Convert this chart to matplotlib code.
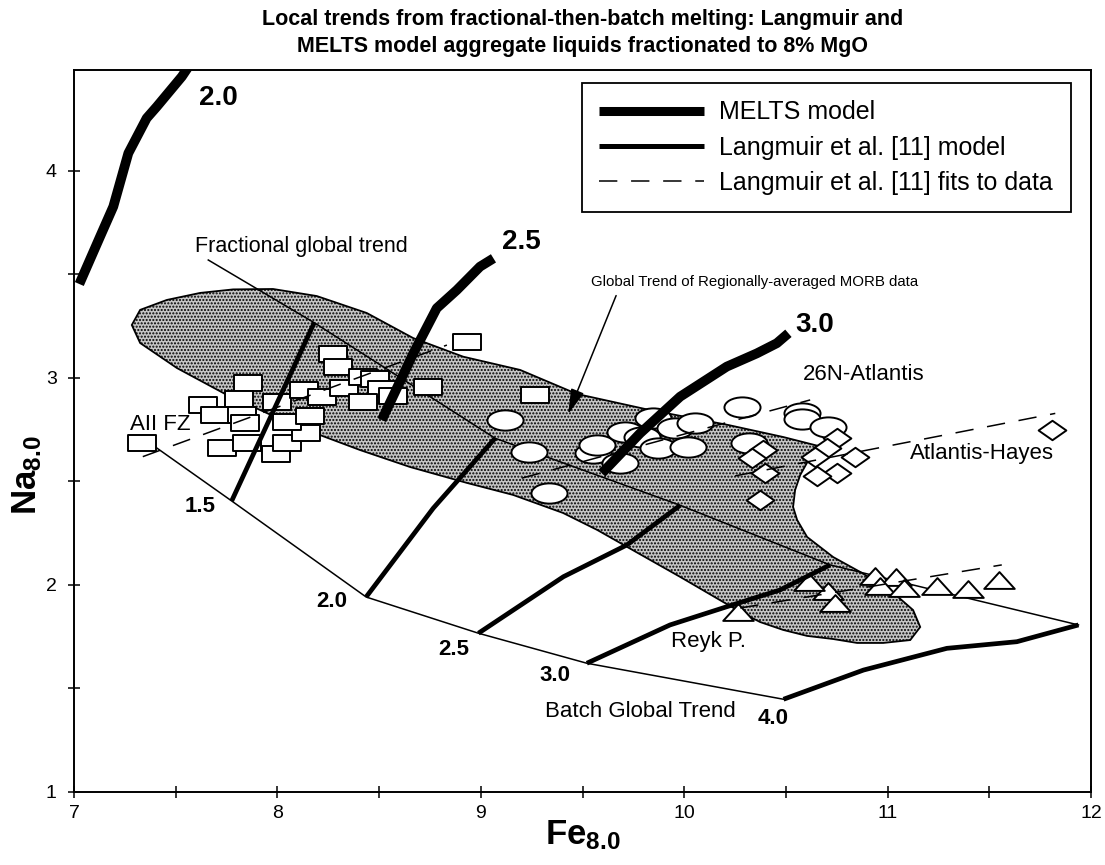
import numpy as np
import matplotlib
matplotlib.use('Agg')
import matplotlib.pyplot as plt
from matplotlib.path import Path
from matplotlib.patches import Polygon
from matplotlib.lines import Line2D
from matplotlib.ticker import MultipleLocator

plt.rcParams['font.family'] = ['Liberation Sans', 'DejaVu Sans']
plt.rcParams['mathtext.fontset'] = 'custom'
plt.rcParams['mathtext.rm'] = 'Liberation Sans'
plt.rcParams['mathtext.bf'] = 'Liberation Sans:bold'
plt.rcParams['hatch.linewidth'] = 1.0

# ---------------- data ----------------
# MELTS model curves (thick)
melts20_x = [7.026, 7.128, 7.193, 7.267, 7.357, 7.407, 7.530, 7.560]
melts20_y = [3.454, 3.683, 3.828, 4.086, 4.255, 4.311, 4.456, 4.500]
melts25_x = [8.513, 8.668, 8.783, 8.882, 8.996, 9.062]
melts25_y = [2.797, 3.119, 3.337, 3.425, 3.538, 3.578]
melts30_x = [9.595, 9.783, 9.980, 10.209, 10.357, 10.455, 10.512]
melts30_y = [2.540, 2.733, 2.910, 3.055, 3.119, 3.168, 3.216]

# Langmuir model: batch and fractional global trends
batch_x = [7.398, 7.775, 8.436, 8.988, 9.521, 10.488]
batch_y = [2.668, 2.406, 1.942, 1.767, 1.622, 1.448]
frac_x = [7.660, 8.181, 9.070, 9.980, 10.717, 11.938]
frac_y = [3.570, 3.267, 2.709, 2.385, 2.097, 1.807]

# Langmuir fractional-then-batch local trends
lang15_x = [7.775, 8.181]
lang15_y = [2.406, 3.267]
lang20_x = [8.436, 8.766, 9.070]
lang20_y = [1.942, 2.371, 2.709]
lang25_x = [8.988, 9.406, 9.717, 9.980]
lang25_y = [1.767, 2.040, 2.193, 2.385]
lang30_x = [9.521, 9.930, 10.209, 10.471, 10.717]
lang30_y = [1.622, 1.807, 1.895, 1.976, 2.097]
lang40_x = [10.488, 10.881, 11.291, 11.635, 11.848, 11.938]
lang40_y = [1.448, 1.589, 1.694, 1.726, 1.783, 1.807]

# Global trend of regionally-averaged MORB data (stippled field outline)
field_x = [7.284, 7.325, 7.456, 7.620, 7.782, 7.978, 8.193, 8.439, 8.667, 8.913,
           9.193, 9.472, 9.832, 10.216, 10.486, 10.658, 10.619, 10.570, 10.545, 10.535,
           10.555, 10.604, 10.732, 10.865, 11.012, 11.125, 11.160, 11.111, 10.978, 10.850,
           10.732, 10.604, 10.486, 10.373, 10.275, 9.980, 9.719, 9.572, 9.404, 9.159,
           8.932, 8.652, 8.406, 8.077, 7.752, 7.506, 7.325]
field_y = [3.256, 3.329, 3.377, 3.411, 3.428, 3.430, 3.396, 3.314, 3.193, 3.103,
           3.039, 2.923, 2.845, 2.773, 2.715, 2.672, 2.618, 2.531, 2.459, 2.377,
           2.314, 2.232, 2.135, 2.063, 1.976, 1.879, 1.797, 1.734, 1.720, 1.720,
           1.739, 1.754, 1.783, 1.821, 1.870, 2.039, 2.184, 2.266, 2.348, 2.435,
           2.493, 2.570, 2.652, 2.773, 2.918, 3.048, 3.169]

# Data: AII FZ (rectangles)
aii_x = [7.333, 7.633, 7.693, 7.857, 7.813, 7.825, 7.841, 7.726, 7.849, 7.993,
         8.046, 8.141, 8.046, 8.160, 7.997, 8.132, 8.218, 8.275, 8.300, 8.329,
         8.422, 8.480, 8.513, 8.422, 8.567, 8.742, 8.931, 9.267]
aii_y = [2.685, 2.868, 2.821, 2.974, 2.897, 2.821, 2.781, 2.660, 2.687, 2.631,
         2.685, 2.733, 2.789, 2.818, 2.886, 2.942, 2.907, 3.115, 3.052, 2.950,
         3.006, 2.995, 2.945, 2.886, 2.913, 2.958, 3.175, 2.918]
# 26N-Atlantis (ellipses)
atl_x = [9.119, 9.237, 9.337, 9.553, 9.572, 9.709, 9.848, 9.791, 9.955, 10.053,
         9.685, 9.873, 10.020, 10.316, 10.283, 10.578, 10.578, 10.709]
atl_y = [2.797, 2.644, 2.443, 2.636, 2.676, 2.741, 2.805, 2.716, 2.757, 2.781,
         2.588, 2.660, 2.668, 2.685, 2.861, 2.829, 2.802, 2.765]
# Atlantis-Hayes (diamonds)
hay_x = [10.389, 10.332, 10.398, 10.373, 10.750, 10.701, 10.643, 10.840, 10.750, 10.652, 11.807]
hay_y = [2.652, 2.612, 2.543, 2.411, 2.709, 2.660, 2.617, 2.617, 2.543, 2.527, 2.749]
# Reykjanes Peninsula (triangles)
rey_x = [10.938, 11.042, 10.963, 11.078, 11.242, 11.397, 11.545, 10.709, 10.742, 10.611, 10.266]
rey_y = [2.043, 2.037, 1.995, 1.984, 1.995, 1.979, 2.024, 1.972, 1.912, 2.016, 1.871]

# Langmuir et al. fits to data (dashed)
fit_aii_x = [7.338, 8.833]
fit_aii_y = [2.620, 3.159]
fit_atl_x = [9.201, 10.619]
fit_atl_y = [2.516, 2.894]
fit_hay_x = [10.250, 11.824]
fit_hay_y = [2.527, 2.829]
fit_rey_x = [10.275, 11.561]
fit_rey_y = [1.889, 2.097]

# labels
batch_labels = ['1.5', '2.0', '2.5', '3.0', '4.0']
batch_lbl_x = [7.620, 8.267, 8.868, 9.365, 10.438]
batch_lbl_y = [2.378, 1.919, 1.686, 1.565, 1.356]
melts_labels = ['2.0', '2.5', '3.0']
melts_lbl_x = [7.708, 9.198, 10.643]
melts_lbl_y = [4.353, 3.657, 3.256]

xticks = [7, 8, 9, 10, 11, 12]
yticks = [1, 2, 3, 4]

# ---------------- figure ----------------
fig = plt.figure(figsize=(11.05, 8.65), dpi=100)
ax = fig.add_axes([0.0670, 0.0844, 0.9204, 0.8347])
ax.set_xlim(7, 12)
ax.set_ylim(1, 4.488)

field = Polygon(np.column_stack([field_x, field_y]), closed=True,
                facecolor='#c6c6c6', edgecolor='black', lw=1.3, hatch='.....', zorder=1)
ax.add_patch(field)

thin = dict(color='black', lw=1.1, zorder=2)
ax.plot(batch_x, batch_y, **thin)
ax.plot(frac_x, frac_y, **thin)

# markers
rect = Path([(-1, -0.55), (1, -0.55), (1, 0.55), (-1, 0.55), (-1, -0.55)],
            [Path.MOVETO, Path.LINETO, Path.LINETO, Path.LINETO, Path.CLOSEPOLY])
uc = Path.unit_circle()
ell = Path(uc.vertices * np.array([1.0, 0.56]), uc.codes)
diam = Path([(-1, 0), (0, 0.7), (1, 0), (0, -0.7), (-1, 0)],
            [Path.MOVETO, Path.LINETO, Path.LINETO, Path.LINETO, Path.CLOSEPOLY])
tri = Path([(-1, -0.55), (1, -0.55), (0, 0.55), (-1, -0.55)],
           [Path.MOVETO, Path.LINETO, Path.LINETO, Path.CLOSEPOLY])

mk = dict(ls='none', mfc='white', mec='black', mew=1.4, zorder=3)
ax.plot(aii_x, aii_y, marker=rect, ms=20, **mk)
ax.plot(atl_x, atl_y, marker=ell, ms=26, **mk)
ax.plot(hay_x, hay_y, marker=diam, ms=20, **mk)
ax.plot(rey_x, rey_y, marker=tri, ms=22, **mk)

dash = dict(color='black', lw=1.1, dashes=(12, 9), zorder=4)
for fx, fy in [(fit_aii_x, fit_aii_y), (fit_atl_x, fit_atl_y),
               (fit_hay_x, fit_hay_y), (fit_rey_x, fit_rey_y)]:
    ax.plot(fx, fy, **dash)

lang = dict(color='black', lw=3.4, solid_capstyle='butt', zorder=5)
for lx, ly in [(lang15_x, lang15_y), (lang20_x, lang20_y), (lang25_x, lang25_y),
               (lang30_x, lang30_y), (lang40_x, lang40_y)]:
    ax.plot(lx, ly, **lang)

melts = dict(color='black', lw=7.0, solid_capstyle='butt', zorder=6)
for mx, my in [(melts20_x, melts20_y), (melts25_x, melts25_y), (melts30_x, melts30_y)]:
    ax.plot(mx, my, **melts)

# labels
for t, x, y in zip(batch_labels, batch_lbl_x, batch_lbl_y):
    ax.text(x, y, t, ha='center', va='center', fontsize=16, fontweight='bold', zorder=7)
for t, x, y in zip(melts_labels, melts_lbl_x, melts_lbl_y):
    ax.text(x, y, t, ha='center', va='center', fontsize=20, fontweight='bold', zorder=7)

fs = 16
ax.text(8.12, 3.634, 'Fractional global trend', ha='center', va='center', fontsize=15.5)
ax.annotate('Global Trend of Regionally-averaged MORB data', xy=(9.429, 2.826),
            xytext=(10.344, 3.464), ha='center', va='center', fontsize=10.8,
            arrowprops=dict(arrowstyle='-|>,head_length=1.1,head_width=0.3',
                            mutation_scale=14, lw=1.1, color='black',
                            relpos=(0.086, 0.0), shrinkA=3, shrinkB=0))
ax.text(10.585, 3.015, '26N-Atlantis', ha='left', va='center', fontsize=fs)
ax.text(11.111, 2.636, 'Atlantis-Hayes', ha='left', va='center', fontsize=fs)
ax.text(7.275, 2.773, 'AII FZ', ha='left', va='center', fontsize=fs)
ax.text(10.119, 1.726, 'Reyk P.', ha='center', va='center', fontsize=fs)
ax.text(9.783, 1.388, 'Batch Global Trend', ha='center', va='center', fontsize=fs)

# legend
handles = [Line2D([], [], color='black', lw=6.5, solid_capstyle='butt', label='MELTS model'),
           Line2D([], [], color='black', lw=3.6, solid_capstyle='butt',
                  label='Langmuir et al. [11] model'),
           Line2D([], [], color='black', lw=1.1, dashes=(12, 9),
                  label='Langmuir et al. [11] fits to data')]
leg = ax.legend(handles=handles, loc='upper right', bbox_to_anchor=(0.98, 0.982),
                fontsize=18, frameon=True, fancybox=False, framealpha=1,
                edgecolor='black', handlelength=4.2, handletextpad=0.6,
                labelspacing=0.45, borderpad=0.7, borderaxespad=0)
leg.get_frame().set_linewidth(1.3)

# axes styling
ax.set_xticks(xticks)
ax.set_yticks(yticks)
ax.xaxis.set_minor_locator(MultipleLocator(0.5))
ax.yaxis.set_minor_locator(MultipleLocator(0.5))
ax.tick_params(which='both', direction='inout', length=9, width=1.1, labelsize=14)
ax.tick_params(axis='x', pad=5)
ax.tick_params(axis='y', pad=8)
for s in ax.spines.values():
    s.set_linewidth(1.4)

ax.set_xlabel(r'$\mathbf{Fe_{8.0}}$', fontsize=25, va='top')
ax.xaxis.set_label_coords(0.50, -0.036)
ax.set_ylabel(r'$\mathbf{Na_{8.0}}$', fontsize=25)
ax.yaxis.set_label_coords(-0.030, 0.439)

ax.set_title('Local trends from fractional-then-batch melting: Langmuir and\n'
             'MELTS model aggregate liquids fractionated to 8% MgO',
             fontsize=15.5, fontweight='bold', linespacing=1.35, pad=13)

fig.savefig('out.png', dpi=100)
